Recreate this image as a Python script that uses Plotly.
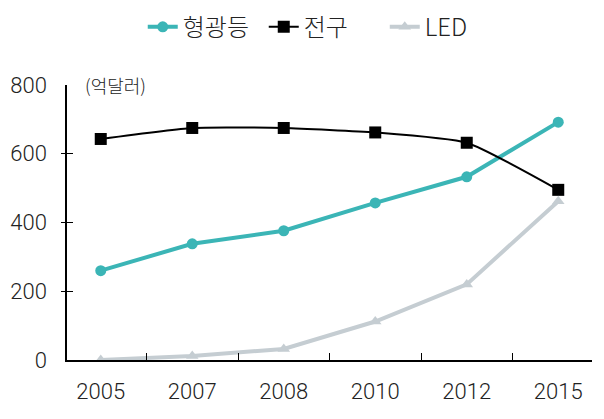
import plotly.graph_objects as go

years = ["2005", "2007", "2008", "2010", "2012", "2015"]
fluorescent = [260, 338, 376, 457, 533, 692]   # 형광등
bulb = [643, 675, 675, 662, 632, 495]           # 전구
led = [0, 12, 32, 112, 220, 462]                # LED

num_font = "Roboto, Liberation Sans, sans-serif"
kr_font = "Noto Sans CJK KR, sans-serif"

fig = go.Figure()
fig.add_trace(go.Scatter(
    x=years, y=fluorescent, name="형광등", mode="lines+markers",
    line=dict(color="#3BB5B6", width=4),
    marker=dict(symbol="circle", size=11, color="#3BB5B6")))
fig.add_trace(go.Scatter(
    x=years, y=bulb, name="전구", mode="lines+markers",
    line=dict(color="#000000", width=2, shape="spline", smoothing=0.5),
    marker=dict(symbol="square", size=12, color="#000000")))
fig.add_trace(go.Scatter(
    x=years, y=led, name="LED", mode="lines+markers",
    line=dict(color="#C5CDD2", width=4),
    marker=dict(symbol="triangle-up", size=11, color="#C5CDD2")))

# helper trace to show outside tick marks on second y axis
fig.add_trace(go.Scatter(x=years, y=[None]*len(years), yaxis="y2",
                         showlegend=False, hoverinfo="skip"))

fig.update_layout(
    width=604, height=419,
    margin=dict(l=67, r=12, t=85, b=59, autoexpand=False),
    plot_bgcolor="white", paper_bgcolor="white",
    font=dict(family=num_font, size=22, color="#222222", weight=300),
    showlegend=True,
    legend=dict(orientation="h", x=0.49, y=1.21, xanchor="center", yanchor="middle",
                font=dict(family=kr_font, size=24, color="#222222", weight=300),
                entrywidth=76, entrywidthmode="pixels", tracegroupgap=0),
    xaxis=dict(type="category", showline=True, linecolor="black", linewidth=1.5,
               ticks="inside", tickson="boundaries", ticklen=7, tickcolor="black",
               showgrid=False, zeroline=False, ticklabelstandoff=11, automargin=False),
    yaxis=dict(range=[0, 800], tickvals=[0, 200, 400, 600, 800],
               showline=True, linecolor="black", linewidth=1.5,
               ticks="inside", ticklen=6, tickcolor="black",
               showgrid=False, zeroline=False, ticklabelstandoff=14, automargin=False),
    yaxis2=dict(range=[0, 800], overlaying="y", side="left",
                tickvals=[200, 400, 600], showticklabels=False,
                ticks="outside", ticklen=5, tickcolor="black",
                showline=False, showgrid=False, zeroline=False, automargin=False),
    annotations=[dict(text="(억달러)", xref="paper", yref="paper", x=0.03, y=1.0,
                      xanchor="left", yanchor="middle", showarrow=False,
                      font=dict(family=kr_font, size=18, color="#222222", weight=300))],
)

fig.write_html("out.html", config={"displayModeBar": False},
               post_script="document.body.style.margin='0';document.body.style.overflow='hidden';")
